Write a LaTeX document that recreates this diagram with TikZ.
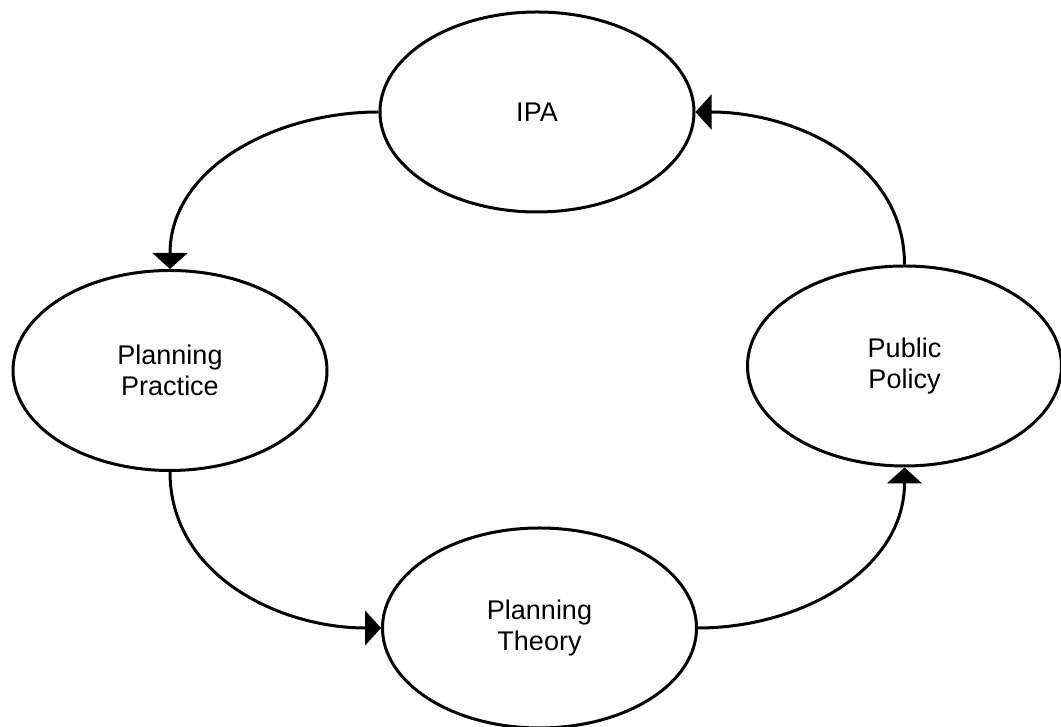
\documentclass[tikz,border=0pt]{standalone}
\usepackage{fontspec}
\setmainfont{Liberation Sans}
\usetikzlibrary{shapes.geometric,arrows.meta}
\begin{document}
\begin{tikzpicture}[x=0.75pt,y=0.75pt,
  topic/.style={ellipse,draw,line width=2.25pt,minimum width=235.5pt,
    minimum height=150pt,inner sep=0pt,align=center,
    font=\fontsize{20.25}{23.5}\selectfont},
  flow/.style={line width=2.25pt,-{Triangle[width=26pt,length=12pt]}}]
\useasboundingbox (0,0) rectangle (1061,727);
% the four topics
\node[topic] (ipa)  at (537,615)   {IPA};
\node[topic] (prac) at (170,356.5) {Planning\\Practice};
\node[topic] (pol)  at (904.5,361) {Public\\Policy};
\node[topic] (theo) at (539.5,99)  {Planning\\Theory};
% the cycle between them
\draw[flow] (ipa.west)  to[out=180,in=90]  (prac.north);
\draw[flow] (prac.south) to[out=-90,in=180] (theo.west);
\draw[flow] (theo.east) to[out=0,in=-90]   (pol.south);
\draw[flow] (pol.north) to[out=90,in=0]    (ipa.east);
\end{tikzpicture}
\end{document}
